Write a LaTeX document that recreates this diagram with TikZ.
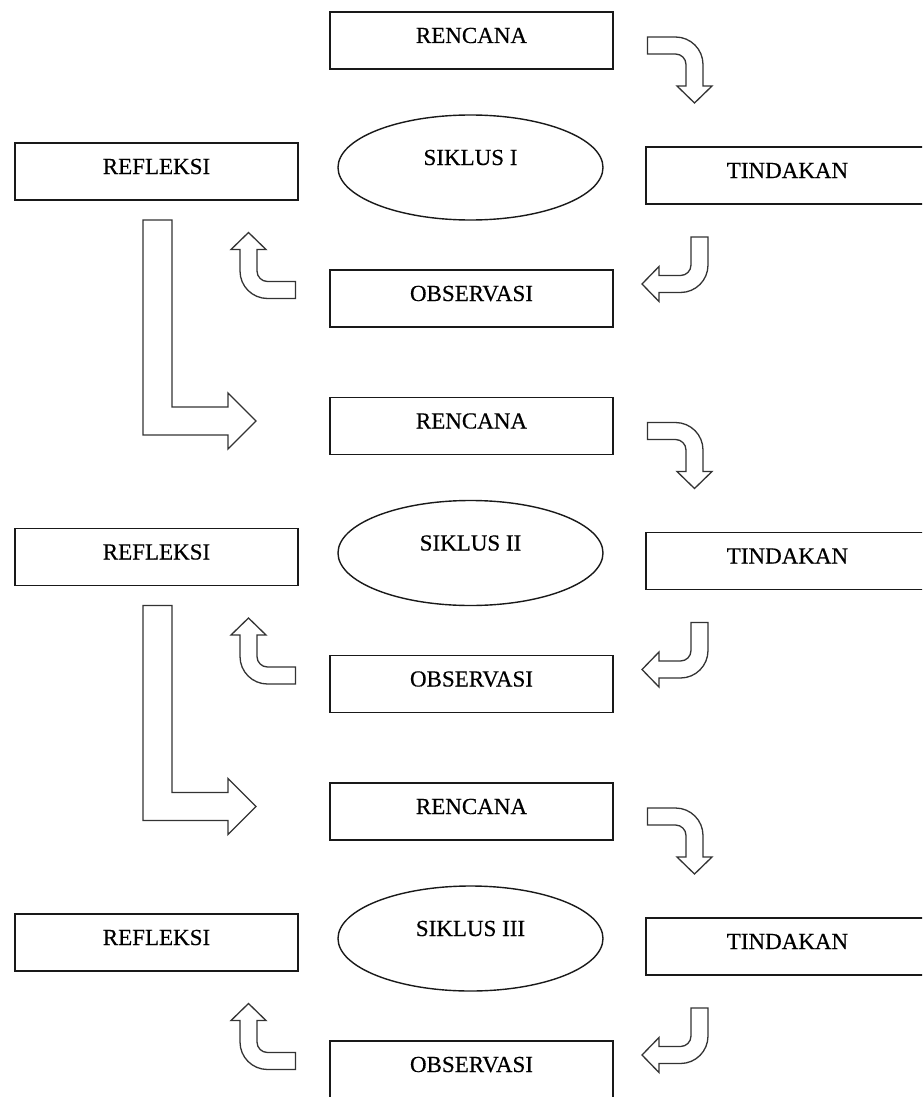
\documentclass[tikz,border=0pt]{standalone}
\usepackage{fontspec}
\setmainfont{Liberation Serif}[UprightFeatures={FakeBold=0.4}]
\usetikzlibrary{shapes.geometric}
\tikzset{
  boxnode/.style={draw=black!90, line width=1.4pt, rectangle, minimum width=283pt,
    minimum height=57pt, inner sep=0pt, outer sep=0pt, text height=16pt, text depth=11pt,
    anchor=north west, font=\fontsize{23}{27}\selectfont},
  cyclenode/.style={draw=black!90, line width=1.4pt, ellipse, minimum width=265pt,
    minimum height=105pt, inner sep=0pt, outer sep=0pt, text height=16pt, text depth=21pt,
    font=\fontsize{23}{27}\selectfont},
  blockarrow/.style={draw=black!80, line width=1.3pt, fill=white, line join=miter},
  pics/bentarrow/.style={code={
    \draw[blockarrow] (-47,8.5) -- (-19,8.5)
      .. controls (-3.81,8.5) and (8.5,-3.81) .. (8.5,-19)
      -- (8.5,-40.5) -- (17.5,-40.5) -- (0,-57.5) -- (-17.5,-40.5) -- (-8.5,-40.5)
      -- (-8.5,-19) .. controls (-8.5,-13.2) and (-13.2,-8.5) .. (-19,-8.5)
      -- (-47,-8.5) -- cycle;
  }}
}
\begin{document}
\begin{tikzpicture}[x=1pt,y=1pt]
\useasboundingbox (0,0) rectangle (922,-1097);
\clip (0,0) rectangle (922,-1097);
\fill[white] (0,0) rectangle (922,-1097);
\foreach \r/\num in {0/I,1/II,2/III}{
  \begin{scope}[yshift={-385.5pt*\r}]
    \node[boxnode] (ren\r) at (330,-12) {RENCANA};
    \node[boxnode] (ref\r) at (15,-143) {REFLEKSI};
    \node[cyclenode] (sik\r) at (470.5,-167.5) {SIKLUS \num};
    \node[boxnode] (tin\r) at (646,-147) {TINDAKAN};
    \node[boxnode] (obs\r) at (330,-270) {OBSERVASI};
    \pic[rotate=0] at (694.5,-45.5) {bentarrow};
    \pic[rotate=-90] at (699.5,-284) {bentarrow};
    \pic[rotate=180] at (248.5,-290) {bentarrow};
  \end{scope}
}
\foreach \r in {0,1}{
  \begin{scope}[yshift={-385.5pt*\r}]
    \draw[blockarrow] (143,-220) -- (172,-220) -- (172,-407) -- (228,-407) -- (228,-393)
      -- (256,-421) -- (228,-449) -- (228,-435) -- (143,-435) -- cycle;
  \end{scope}
}
\end{tikzpicture}
\end{document}
